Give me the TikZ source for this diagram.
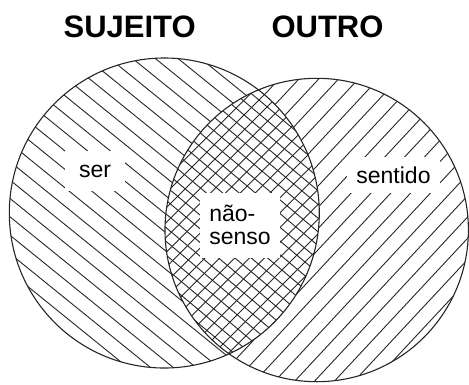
\documentclass[tikz,border=0pt]{standalone}
\usepackage{fontspec}
\setmainfont{Liberation Sans}
\usetikzlibrary{calc}

\begin{document}
\begin{tikzpicture}[x=1pt,y=-1pt,line cap=round,line join=round,
  hatchline/.style={line width=0.9pt,color=black!85},
  rim/.style={line width=1.1pt,color=black!85},
  title/.style={font=\fontsize{31}{31}\selectfont\bfseries,anchor=base},
  zonelabel/.style={fill=white,inner sep=0pt,font=\fontsize{23}{23.4}\selectfont}]
\useasboundingbox (0,0) rectangle (469,384);
\coordinate (cL) at (164.3,213);
\coordinate (cR) at (316.7,230);
\coordinate (cM) at (241,222);
% sujeito
\begin{scope}
\clip (cL) circle (155);
\foreach \k in {-12,...,12}
\draw[hatchline,rotate around={-39:(cL)}] ($(cL)+(-200,\k*14.3)$) -- ++(400,0);
\end{scope}
% outro
\begin{scope}
\clip (cR) circle (151.7);
\foreach \k in {-12,...,12}
\draw[hatchline,rotate around={47:(cR)}] ($(cR)+(-200,\k*14.5)$) -- ++(400,0);
\end{scope}
% intersection
\begin{scope}
\clip (cL) circle (155);
\clip (cR) circle (151.7);
\fill[white] (cR) circle (151.7);
\foreach \k in {-18,...,18}
{
\draw[hatchline,rotate around={-40:(cM)}] ($(cM)+(-220,\k*10.5)$) -- ++(440,0);
\draw[hatchline,rotate around={45:(cM)}] ($(cM)+(-220,\k*10.5)$) -- ++(440,0);
}
\end{scope}
\draw[rim] (cL) circle (155);
\draw[rim] (cR) circle (151.7);
\node[title] (sujeito) at (129.7,37) {SUJEITO};
\node[title] (outro) at (327.5,37) {OUTRO};
\node[zonelabel,minimum width=60,minimum height=40] (ser) at (95,171) {ser};
\node[zonelabel,minimum width=93,minimum height=36] (sentido) at (393.5,175) {sentido};
\node[zonelabel,minimum width=80,minimum height=65,align=left] (naosenso) at (240,225) {não-\\senso};
\end{tikzpicture}
\end{document}
